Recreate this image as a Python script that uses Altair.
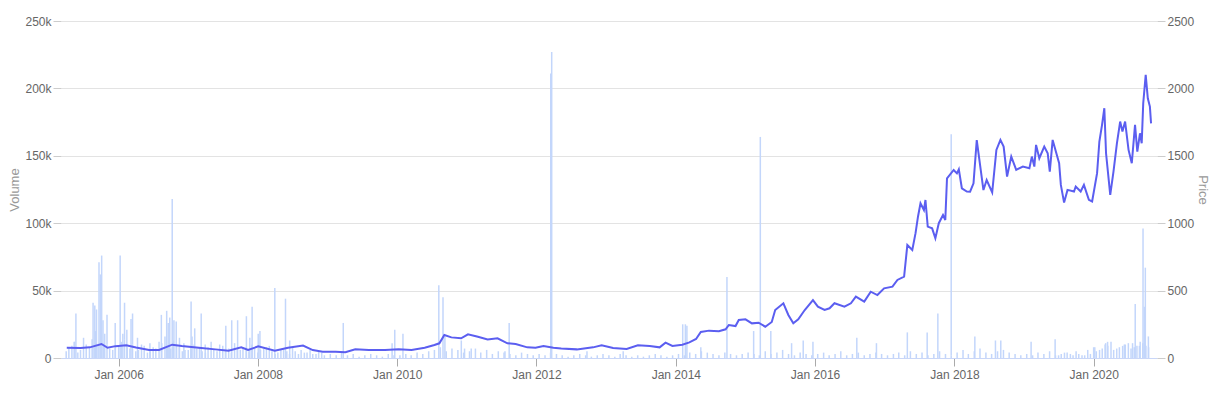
import altair as alt
import pandas as pd

# ---- Price line ----
price_dates = [
    "2005-04-04", "2005-06-15", "2005-08-03", "2005-10-03", "2005-11-04", "2005-12-15",
    "2006-02-10", "2006-04-02", "2006-06-10", "2006-08-01", "2006-10-09", "2006-11-28",
    "2007-02-25", "2007-05-23", "2007-07-31", "2007-10-06", "2007-11-11",
    "2008-01-03", "2008-03-30", "2008-06-07", "2008-08-25", "2008-10-15", "2008-12-06",
    "2009-02-12", "2009-04-04", "2009-05-26", "2009-08-05", "2009-10-29",
    "2010-01-08", "2010-03-17", "2010-05-25", "2010-07-15", "2010-08-10", "2010-09-05",
    "2010-10-12", "2010-12-02",
    "2011-01-07", "2011-02-28", "2011-04-20", "2011-06-11", "2011-08-02", "2011-09-14",
    "2011-11-14", "2011-12-27",
    "2012-02-07", "2012-03-30", "2012-05-10", "2012-07-31", "2012-10-24", "2012-12-08",
    "2013-02-06", "2013-04-18", "2013-06-16", "2013-08-17", "2013-10-08", "2013-11-08",
    "2013-12-14",
    "2014-02-04", "2014-03-13", "2014-04-17", "2014-05-12", "2014-06-24", "2014-08-15",
    "2014-09-19", "2014-10-06", "2014-11-10", "2014-11-27",
    "2015-01-01", "2015-02-04", "2015-03-11", "2015-04-15", "2015-05-19", "2015-06-06",
    "2015-07-19", "2015-08-14", "2015-09-09", "2015-10-05", "2015-11-08", "2015-12-21",
    "2016-01-16", "2016-02-20", "2016-03-17", "2016-04-12", "2016-06-03", "2016-07-07",
    "2016-08-02", "2016-09-15", "2016-10-19", "2016-11-23", "2016-12-28",
    "2017-02-10", "2017-03-08", "2017-04-12", "2017-04-29", "2017-05-25", "2017-06-11",
    "2017-06-24", "2017-07-07", "2017-07-25", "2017-08-02", "2017-08-14", "2017-09-06",
    "2017-09-23", "2017-10-11", "2017-11-02", "2017-11-14", "2017-11-23", "2017-12-28",
    "2018-01-14", "2018-01-24", "2018-02-09", "2018-03-07", "2018-03-24", "2018-04-11",
    "2018-04-28", "2018-06-02", "2018-06-19", "2018-07-18", "2018-08-09", "2018-08-30",
    "2018-09-16", "2018-10-04", "2018-10-26", "2018-11-21", "2018-12-26",
    "2019-01-29", "2019-02-11", "2019-02-24", "2019-03-05", "2019-03-22", "2019-04-17",
    "2019-05-05", "2019-05-16", "2019-05-31", "2019-07-04", "2019-07-13", "2019-07-30",
    "2019-08-17", "2019-09-20", "2019-09-29", "2019-10-25", "2019-11-11", "2019-12-07",
    "2019-12-24",
    "2020-01-19", "2020-01-31", "2020-02-14", "2020-02-26", "2020-03-06", "2020-03-28",
    "2020-04-14", "2020-05-02", "2020-05-19", "2020-05-31", "2020-06-14", "2020-07-02",
    "2020-07-19", "2020-08-05", "2020-08-17", "2020-08-31", "2020-09-09", "2020-09-17",
    "2020-09-30", "2020-10-11", "2020-10-22", "2020-10-28",
]
price_values = [
    76, 74, 79, 104, 76, 88,
    94, 78, 59, 59, 99, 89,
    76, 64, 54, 79, 59,
    86, 54, 76, 92, 59, 47,
    47, 43, 64, 59, 59,
    64, 59, 76, 96, 109, 171,
    153, 146,
    176, 158, 138, 146, 109, 104,
    79, 76,
    89, 76, 70, 64, 79, 94,
    74, 67, 94, 89, 79, 114,
    89,
    99, 116, 141, 193, 203, 198,
    213, 245, 237, 282,
    287, 257, 262, 232, 267, 356,
    406, 319, 257, 287, 356, 430,
    381, 356, 369, 406, 381, 406,
    455, 418, 492, 467, 517,
    529, 579, 603, 838, 801, 926,
    1050, 1148, 1098, 1172, 975, 962,
    888, 1000, 1061, 1024, 1333, 1395,
    1370, 1400, 1259, 1235, 1234, 1296,
    1617, 1246, 1320, 1228, 1544, 1618,
    1568, 1346, 1494, 1396, 1420,
    1408, 1494, 1420, 1581, 1482, 1568,
    1519, 1383, 1618, 1445, 1284, 1153,
    1247, 1235, 1272, 1235, 1284, 1173,
    1161,
    1371, 1606, 1729, 1853, 1519, 1210,
    1383, 1593, 1754, 1680, 1754, 1544,
    1445, 1729, 1531, 1667, 1593, 1890,
    2100, 1927, 1865, 1741,
]

# ---- Volume: monthly background level (thousands), mid-month, Apr 2005 .. Oct 2020 ----
vol_base_start = "2005-04-15"
vol_base_k = [
    8, 12, 6, 10, 14, 9, 11, 7, 9,
    12, 8, 10, 6, 9, 5, 7, 11, 9, 13, 8, 6,
    9, 7, 5, 8, 6, 10, 7, 4, 6, 8, 5, 7,
    6, 8, 5, 4, 7, 3, 5, 6, 4, 3, 5, 2,
    3, 2, 4, 2, 3, 1, 2, 3, 2, 1, 3, 2,
    2, 3, 2, 4, 3, 5, 6, 8, 5, 7, 6, 4,
    5, 7, 4, 6, 3, 5, 4, 3, 2, 4, 3, 2,
    3, 2, 4, 3, 2, 1, 2, 3, 2, 1, 2, 3,
    2, 1, 3, 2, 1, 2, 1, 2, 3, 2, 1, 2,
    3, 2, 4, 3, 5, 4, 3, 2, 4, 3, 2, 3,
    4, 3, 2, 5, 3, 4, 6, 3, 2, 4, 3, 2,
    3, 4, 2, 3, 5, 2, 3, 4, 2, 3, 4, 3,
    2, 3, 4, 2, 5, 3, 4, 2, 3, 5, 3, 2,
    4, 6, 3, 5, 7, 4, 3, 5, 6, 4, 3, 2,
    3, 2, 4, 3, 5, 2, 3, 4, 2, 3, 2, 3,
    5, 7, 9, 6, 8, 10, 7, 9, 11, 8,
]

# ---- Volume: extra early-month background (thousands) for the busier periods ----
vol_extra1_start = "2005-04-01"   # Apr 2005 .. Dec 2008
vol_extra1_k = [
    5, 9, 4, 15, 8, 20, 13, 10, 6,
    9, 14, 7, 5, 10, 4, 8, 12, 16, 7, 10, 5,
    6, 10, 8, 4, 12, 5, 9, 7, 11, 6, 8, 10,
    4, 7, 9, 3, 6, 5, 8, 3, 4, 6, 3, 4,
]
vol_extra2_start = "2019-07-01"   # Jul 2019 .. Oct 2020
vol_extra2_k = [2, 4, 3, 5, 2, 6, 8, 6, 10, 12, 7, 9, 11, 8, 12, 9]

# ---- Volume: individual spikes (thousands) ----
spike_dates = [
    "2005-05-13", "2005-05-22", "2005-08-20", "2005-08-29", "2005-09-07", "2005-09-20",
    "2005-09-27", "2005-10-04", "2005-10-11", "2005-10-20", "2005-11-01", "2005-12-14",
    "2006-01-09", "2006-01-23", "2006-02-01", "2006-02-13", "2006-03-07", "2006-03-15",
    "2006-04-10", "2006-06-14", "2006-08-13", "2006-09-10", "2006-09-18", "2006-09-26",
    "2006-10-09", "2006-10-18", "2006-10-30", "2006-11-16", "2006-12-09",
    "2007-01-16", "2007-01-21", "2007-02-04", "2007-03-10", "2007-03-31", "2007-07-17",
    "2007-08-17", "2007-09-17", "2007-11-02", "2007-11-20", "2007-12-02",
    "2008-01-03", "2008-01-12", "2008-03-30", "2008-05-25", "2008-06-16",
    "2009-03-24", "2009-12-05", "2009-12-19", "2010-01-31",
    "2010-08-07", "2010-08-29", "2010-09-08", "2010-12-03", "2010-12-20",
    "2011-01-24", "2011-07-20", "2011-08-11",
    "2012-03-16", "2012-03-21", "2012-09-22", "2013-03-31",
    "2014-02-06", "2014-02-20", "2014-02-28", "2014-05-12", "2014-09-26",
    "2015-02-13", "2015-03-20", "2015-05-14", "2015-08-31", "2015-10-31", "2015-12-21",
    "2016-08-07", "2016-11-18",
    "2017-04-29", "2017-08-11", "2017-10-06", "2017-12-15",
    "2018-04-18", "2018-08-04", "2018-09-01",
    "2019-02-07", "2019-06-13",
    "2020-01-07", "2020-03-04", "2020-03-14", "2020-06-10", "2020-07-23", "2020-08-06",
    "2020-08-28", "2020-09-16", "2020-09-23", "2020-09-28", "2020-10-14",
]
spike_k = [
    12, 33, 41, 39, 36, 71,
    62, 76, 28, 18, 22, 26,
    76, 18, 27, 21, 29, 23,
    15, 11, 32, 35, 26, 30,
    118, 28, 27, 15, 11,
    42, 16, 22, 33, 10, 24,
    28, 28, 31, 15, 38,
    18, 20, 52, 44, 13,
    26, 11, 21, 18,
    54, 45, 16, 13, 7,
    7, 5, 26,
    211, 227, 5, 5,
    25, 25, 24, 8, 60,
    20, 164, 20, 11, 13, 12,
    15, 11,
    19, 19, 33, 164,
    16, 13, 13,
    12, 14,
    8, 11, 12, 10, 11, 40,
    9, 96, 38, 67, 16,
]


def month_dates(start, n):
    return pd.date_range(start, periods=n, freq="MS").strftime("%Y-%m-%d").tolist() \
        if start.endswith("-01") else \
        (pd.date_range(start[:8] + "01", periods=n, freq="MS")
         + pd.Timedelta(days=int(start[8:]) - 1)).strftime("%Y-%m-%d").tolist()


all_dates = (month_dates(vol_base_start, len(vol_base_k))
             + month_dates(vol_extra1_start, len(vol_extra1_k))
             + month_dates(vol_extra2_start, len(vol_extra2_k))
             + spike_dates)
all_k = vol_base_k + vol_extra1_k + vol_extra2_k + spike_k
vol_df = pd.DataFrame({"date": all_dates, "volume": [v * 1000 for v in all_k]})
price_df = pd.DataFrame({"date": price_dates, "price": price_values})

x_scale = alt.Scale(domain=[alt.DateTime(year=2005, month=3, date=31),
                            alt.DateTime(year=2020, month=11, date=2)])

bars = alt.Chart(vol_df).mark_bar(color="#c3d6fb", width=1.5).encode(
    x=alt.X("date:T", scale=x_scale,
            axis=alt.Axis(format="%b %Y",
                          tickCount=alt.TimeIntervalStep(interval="year", step=2),
                          grid=False, domain=True, domainColor="#c9d6f8",
                          ticks=True, tickColor="#aaaaaa", tickSize=8,
                          labelColor="#666666", labelFontSize=12, labelPadding=3,
                          title=None)),
    y=alt.Y("volume:Q", scale=alt.Scale(domain=[0, 250000]),
            axis=alt.Axis(title="Volume",
                          values=[0, 50000, 100000, 150000, 200000, 250000],
                          labelExpr="datum.value == 0 ? '0' : format(datum.value / 1000, 'd') + 'k'",
                          grid=True, gridColor="#e3e3e3", domain=False,
                          ticks=True, tickColor="#cccccc", tickSize=8,
                          labelColor="#666666", labelFontSize=12, labelPadding=2,
                          titleColor="#999999", titleFontSize=13,
                          titleFontWeight="normal", titlePadding=3)),
)

line = alt.Chart(price_df).mark_line(color="#5b5ef0", strokeWidth=2).encode(
    x=alt.X("date:T", scale=x_scale),
    y=alt.Y("price:Q", scale=alt.Scale(domain=[0, 2500]),
            axis=alt.Axis(title="Price", orient="right", format="d",
                          values=[0, 500, 1000, 1500, 2000, 2500],
                          grid=False, domain=False,
                          ticks=True, tickColor="#cccccc", tickSize=8,
                          labelColor="#666666", labelFontSize=12, labelPadding=2,
                          titleColor="#999999", titleFontSize=13,
                          titleFontWeight="normal", titlePadding=2)),
)

chart = alt.layer(bars, line).resolve_scale(y="independent").properties(
    width=1096, height=337,
    autosize=alt.AutoSizeParams(type="none"),
    padding={"left": 53, "top": 13, "right": 58, "bottom": 40},
).configure(font="Liberation Sans").configure_view(stroke=None)

chart.save("out.html", embed_options={"renderer": "svg", "actions": False})
